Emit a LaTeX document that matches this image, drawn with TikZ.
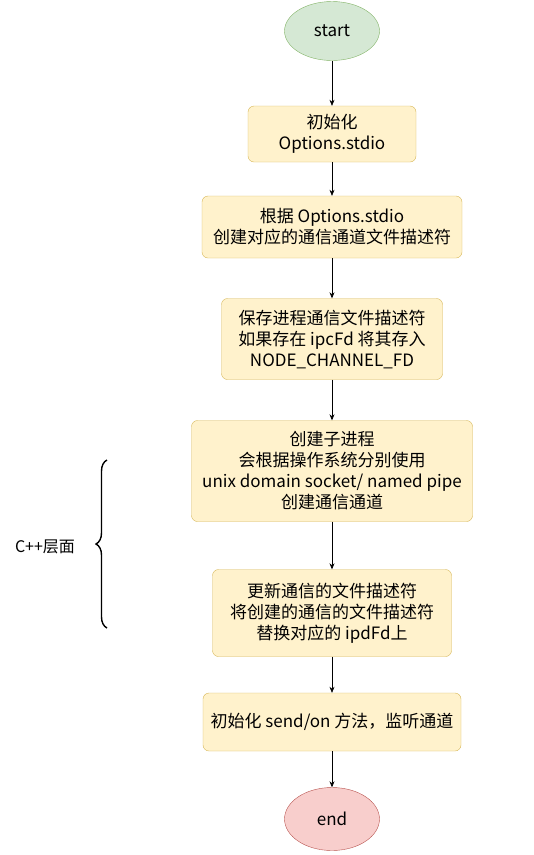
\documentclass[tikz,border=0pt]{standalone}
\usepackage{fontspec}
\setmainfont{Noto Sans CJK SC}
\usetikzlibrary{arrows.meta,decorations.pathreplacing,shapes.geometric}

\definecolor{termfill}{HTML}{D5E8D4}
\definecolor{termline}{HTML}{82B366}
\definecolor{endfill}{HTML}{F8CECC}
\definecolor{endline}{HTML}{B85450}
\definecolor{boxfill}{HTML}{FFF2CC}
\definecolor{boxline}{HTML}{D6B656}

\tikzset{
    stepbox/.style={draw=boxline, fill=boxfill, rounded corners=6pt, align=center,
        inner sep=0pt, font=\fontsize{17}{21}\selectfont},
    startnode/.style={ellipse, draw=termline, fill=termfill, minimum width=95pt,
        minimum height=59pt, inner sep=0pt, font=\fontsize{17}{21}\selectfont},
    endnode/.style={startnode, draw=endline, fill=endfill, minimum height=63pt},
    flow/.style={-{Stealth[length=6pt,width=5pt]}, line width=0.6pt}
}

\begin{document}
\begin{tikzpicture}[x=1pt,y=-1pt]
    \useasboundingbox (0,0) rectangle (534,855);
    \node[startnode] (start) at (332,31) {start};
    \node[stepbox, minimum width=168pt, minimum height=56pt] (init) at (332,134) {初始化\\Options.stdio};
    \node[stepbox, minimum width=260pt, minimum height=62pt] (create) at (332,227) {根据 Options.stdio\\创建对应的通信通道文件描述符};
    \node[stepbox, minimum width=221pt, minimum height=81pt] (save) at (332,339) {保存进程通信文件描述符\\如果存在 ipcFd 将其存入\\NODE\_CHANNEL\_FD};
    \node[stepbox, minimum width=281pt, minimum height=101pt] (spawn) at (332,471) {创建子进程\\会根据操作系统分别使用\\unix domain socket/ named pipe\\创建通信通道};
    \node[stepbox, minimum width=239pt, minimum height=87pt] (update) at (332,613) {更新通信的文件描述符\\将创建的通信的文件描述符\\替换对应的 ipdFd上};
    \node[stepbox, minimum width=258pt, minimum height=58pt] (listen) at (332,722) {初始化 send/on 方法，监听通道};
    \node[endnode] (end) at (332,819) {end};

    \draw[flow] (start) -- (init);
    \draw[flow] (init) -- (create);
    \draw[flow] (create) -- (save);
    \draw[flow] (save) -- (spawn);
    \draw[flow] (spawn) -- (update);
    \draw[flow] (update) -- (listen);
    \draw[flow] (listen) -- (end);

    % C++ part
    \coordinate (bracetop) at (107,460);
    \coordinate (bracebot) at (107,628);
    \draw[line width=1.4pt, decorate, decoration={brace, amplitude=11pt}]
        (bracebot) -- (bracetop);
    \node[font=\fontsize{16}{18}\selectfont] (cpp) at (45,547) {C++层面};
\end{tikzpicture}
\end{document}
